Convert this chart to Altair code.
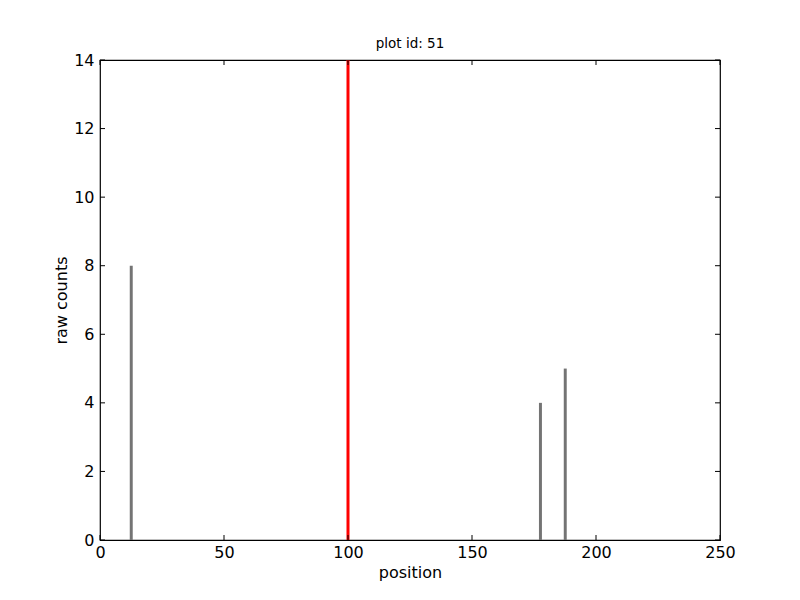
import altair as alt
import pandas as pd

bar_start = [12, 177, 187]
bar_end = [13.2, 178.2, 188.2]
bar_counts = [8, 4, 5]
marker_pos = [100]
x_ticks = [0, 50, 100, 150, 200, 250]
y_ticks = [0, 2, 4, 6, 8, 10, 12, 14]

bars_df = pd.DataFrame({"start": bar_start, "end": bar_end, "count": bar_counts})
marker_df = pd.DataFrame({"pos": marker_pos})
xt_df = pd.DataFrame({"t": x_ticks})
yt_df = pd.DataFrame({"t": y_ticks})

W, H = 620, 480
xs = alt.Scale(domain=[0, 250], nice=False, zero=False)
ys = alt.Scale(domain=[0, 14], nice=False)
font = "DejaVu Sans"

xaxis = alt.Axis(values=x_ticks, ticks=True, tickSize=0, domain=False, grid=False, labelFontSize=16,
                 labelFont=font, labelColor="black", labelPadding=4, labelFlush=False, titleFont=font,
                 titleFontSize=16, titleFontWeight="normal", titleColor="black", titlePadding=4)
yaxis = alt.Axis(values=y_ticks, ticks=True, tickSize=0, domain=False, grid=False, labelFontSize=16,
                 labelFont=font, labelColor="black", labelPadding=6, labelFlush=False, titleFont=font,
                 titleFontSize=16, titleFontWeight="normal", titleColor="black", titlePadding=4)

bars = alt.Chart(bars_df).mark_bar(color="#747474").encode(
    x=alt.X("start:Q", scale=xs, axis=xaxis, title="position"),
    x2="end:Q",
    y=alt.Y("count:Q", scale=ys, axis=yaxis, title="raw counts"),
    y2=alt.datum(0),
)

marker = alt.Chart(marker_df).mark_rule(color="#ff0000", strokeWidth=3).encode(
    x=alt.X("pos:Q", scale=xs),
)

tick_len = 5
xt_bottom = alt.Chart(xt_df).mark_rule(color="black").encode(
    x=alt.X("t:Q", scale=xs), y=alt.value(H), y2=alt.value(H - tick_len))
xt_top = alt.Chart(xt_df).mark_rule(color="black").encode(
    x=alt.X("t:Q", scale=xs), y=alt.value(0), y2=alt.value(tick_len))
yt_left = alt.Chart(yt_df).mark_rule(color="black").encode(
    y=alt.Y("t:Q", scale=ys), x=alt.value(0), x2=alt.value(tick_len))
yt_right = alt.Chart(yt_df).mark_rule(color="black").encode(
    y=alt.Y("t:Q", scale=ys), x=alt.value(W), x2=alt.value(W - tick_len))

chart = alt.layer(bars, marker, xt_bottom, xt_top, yt_left, yt_right).properties(
    width=W, height=H,
    background="white",
    title=alt.TitleParams("plot id: 51", font=font, fontSize=13.5, fontWeight="normal",
                          color="black", offset=2),
    autosize=alt.AutoSizeParams(type="none"),
    padding={"left": 92, "top": 52, "right": 72, "bottom": 52},
).configure_view(stroke="black", strokeWidth=1.2)

chart.save("out.html", embed_options={"renderer": "svg", "actions": False})
